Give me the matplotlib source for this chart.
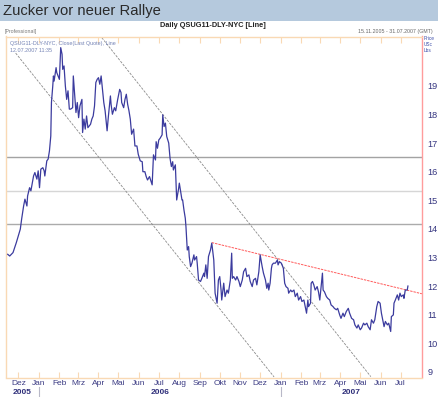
import matplotlib
matplotlib.use("Agg")
import matplotlib.pyplot as plt
import matplotlib.transforms as mtransforms
from matplotlib import font_manager
import pandas as pd

# ---------------- data ----------------
start_date = "2005-11-15"
day_offsets = [0, 3, 8, 13, 16, 19, 21, 24, 26, 29, 30, 33, 35, 39, 41, 44, 46, 48, 50, 53, 55, 56, 59, 61, 63, 65, 66, 68, 69, 70,
               73, 74, 78, 80, 82, 83, 85, 87, 89, 91, 93, 95, 98, 99, 102, 103, 105, 107, 109, 112, 113, 115, 117, 119, 121, 123, 125, 127, 129, 131,
               133, 135, 137, 139, 141, 143, 145, 147, 150, 152, 155, 156, 158, 161, 163, 166, 169, 171, 172, 175, 177, 179, 181, 183, 185, 187, 190, 192, 195, 197,
               200, 203, 204, 207, 209, 211, 214, 218, 220, 223, 224, 226, 228, 230, 233, 234, 236, 238, 240, 243, 245, 247, 249, 250, 253, 254, 255, 258, 259, 261,
               263, 264, 266, 268, 269, 271, 273, 274, 276, 278, 281, 282, 285, 286, 288, 291, 293, 296, 297, 299, 301, 303, 306, 308, 311, 313, 316, 318, 320, 322,
               323, 326, 328, 331, 333, 336, 338, 339, 341, 344, 346, 349, 351, 354, 356, 359, 361, 364, 366, 369, 371, 374, 376, 379, 381, 384, 386, 389, 391, 393,
               394, 396, 398, 399, 401, 404, 407, 408, 410, 413, 416, 418, 420, 423, 424, 427, 429, 432, 434, 437, 439, 442, 444, 447, 449, 451, 453, 454, 457, 458,
               460, 462, 464, 467, 469, 471, 473, 475, 476, 478, 481, 483, 486, 488, 491, 493, 496, 498, 501, 503, 506, 508, 511, 514, 516, 519, 522, 524, 527, 529,
               532, 534, 537, 539, 542, 544, 547, 549, 552, 554, 557, 559, 562, 564, 567, 568, 570, 573, 575, 578, 579, 582, 583, 585, 588, 590, 592, 594, 597, 598,
               600, 603, 604]
close_values = [13.11, 13.05, 13.17, 13.52, 13.75, 13.99, 14.34, 14.80, 15.04, 14.80, 15.15, 15.44, 15.33, 15.85, 15.97, 15.74, 16.03, 15.44, 16.09, 16.14, 16.03, 15.85, 16.38, 16.44, 16.73, 17.25, 18.42, 19.00, 19.35, 19.17,
                19.64, 19.47, 19.23, 20.34, 20.11, 19.58, 19.70, 19.00, 18.53, 18.83, 18.19, 18.19, 18.24, 19.35, 18.42, 18.07, 18.42, 17.89, 18.30, 18.53, 17.37, 17.84, 17.49, 17.95, 17.54, 17.60, 17.66, 17.84, 17.95, 18.30,
                19.12, 19.23, 19.29, 19.06, 19.35, 18.88, 18.42, 18.13, 17.43, 17.95, 18.65, 18.36, 18.01, 18.24, 18.13, 18.53, 18.88, 18.77, 18.42, 18.24, 18.53, 18.71, 18.36, 18.13, 17.84, 17.31, 17.49, 16.90, 16.90, 16.61,
                16.38, 16.35, 16.00, 16.00, 15.83, 15.71, 15.83, 15.54, 16.59, 16.41, 17.05, 16.82, 17.11, 17.17, 17.29, 17.99, 17.58, 17.70, 17.23, 17.00, 16.47, 16.18, 16.35, 16.06, 16.24, 15.60, 15.01, 15.42, 15.60, 15.30,
                15.01, 15.01, 14.66, 14.37, 14.08, 13.26, 13.38, 13.03, 12.68, 12.80, 13.09, 12.91, 13.03, 12.80, 12.21, 12.16, 12.27, 12.45, 12.33, 12.74, 12.27, 13.03, 13.26, 13.50, 12.91, 11.75, 11.40, 12.21, 12.33, 11.86,
                11.51, 12.10, 11.63, 11.86, 11.75, 12.21, 13.15, 12.27, 12.33, 12.21, 12.33, 12.16, 11.98, 12.21, 12.50, 12.62, 12.33, 12.39, 12.16, 11.98, 12.21, 12.27, 12.04, 12.50, 13.09, 12.68, 12.45, 12.21, 11.92, 12.10,
                11.86, 12.10, 12.62, 12.74, 12.80, 12.80, 12.91, 12.74, 12.85, 12.80, 12.62, 12.10, 11.98, 11.92, 11.75, 11.86, 11.80, 11.86, 11.63, 11.75, 11.51, 11.63, 11.46, 11.51, 11.28, 11.05, 11.51, 11.28, 11.40, 12.10,
                12.16, 12.04, 11.86, 11.98, 11.80, 11.51, 11.98, 12.45, 11.86, 11.80, 11.63, 11.57, 11.51, 11.34, 11.28, 11.22, 11.17, 11.22, 10.99, 10.87, 11.05, 10.93, 11.11, 11.22, 11.05, 10.87, 10.82, 10.64, 10.53, 10.64,
                10.47, 10.53, 10.70, 10.64, 10.70, 10.58, 10.47, 10.82, 10.70, 10.82, 11.28, 11.46, 11.40, 11.05, 10.70, 10.58, 10.76, 10.64, 10.70, 10.41, 10.93, 10.99, 11.40, 11.51, 11.69, 11.51, 11.75, 11.63, 11.69, 11.57,
                11.86, 11.86, 12.00]

month_labels = ["Dez", "Jan", "Feb", "Mrz", "Apr", "Mai", "Jun", "Jul", "Aug", "Sep", "Okt", "Nov",
                "Dez", "Jan", "Feb", "Mrz", "Apr", "Mai", "Jun", "Jul"]
month_tick_dates = pd.date_range("2005-12-01", "2007-07-01", freq="MS")
year_labels = ["2005", "2006", "2007"]
year_break_dates = ["2006-01-01", "2007-01-01"]
y_ticks = [9, 10, 11, 12, 13, 14, 15, 16, 17, 18, 19]

level_values = [16.50, 15.34, 14.16]

resistance_dates = ["2006-09-19", "2007-08-02"]
resistance_values = [13.52, 11.73]
channel_upper_dates = ["2006-04-06", "2007-05-17"]
channel_upper_values = [20.69, 8.83]
channel_lower_dates = ["2005-11-27", "2006-12-22"]
channel_lower_values = [20.15, 8.82]

x_range = ["2005-11-12 10:00", "2007-08-02 06:00"]
y_range = [8.80, 20.73]

# ---------------- fonts ----------------
def pick(names):
    for n in names:
        try:
            font_manager.findfont(n, fallback_to_default=False)
            return n
        except Exception:
            pass
    return "DejaVu Sans"

base_font = pick(["Liberation Sans", "Arial", "DejaVu Sans"])
narrow_font = pick(["Liberation Sans Narrow", "Liberation Sans", "DejaVu Sans"])
plt.rcParams["font.family"] = [base_font, "DejaVu Sans"]

# ---------------- figure ----------------
W, H = 438, 397
fig = plt.figure(figsize=(W / 100, H / 100), dpi=100)
fig.patch.set_facecolor("white")

def fx(px):
    return px / W

def fy(py):
    return 1 - py / H

# banner
banner = plt.Rectangle((0, fy(20.5)), 1, 20.5 / H, transform=fig.transFigure,
                       facecolor="#b5c9dd", edgecolor="none", zorder=0)
fig.patches.append(banner)
fig.text(fx(3), fy(10.5), "Zucker vor neuer Rallye", family=[narrow_font, "DejaVu Sans"],
         fontsize=12.5 if narrow_font != base_font else 10.6, color="#2a2a2a", va="center", ha="left")

fig.text(fx(213), fy(25.5), "Daily QSUG11-DLY-NYC [Line]", fontsize=5.3, fontweight="bold",
         color="#222222", ha="center", va="center")
fig.text(fx(5), fy(31), "[Professional]", fontsize=3.8, color="#777777", ha="left", va="center")
fig.text(fx(433), fy(31), "15.11.2005 - 31.07.2007 (GMT)", fontsize=3.8, color="#666666",
         ha="right", va="center")
fig.text(fx(424), fy(45), "Price\nUSc\nLbs", fontsize=3.4, color="#3a4aa8", ha="left", va="center",
         linespacing=1.25)

# axes
left, right, top, bottom = 6, 422, 36.5, 377.5
ax = fig.add_axes([fx(left), fy(bottom), (right - left) / W, (bottom - top) / H])
ax.set_facecolor("white")

dates = pd.Timestamp(start_date) + pd.to_timedelta(day_offsets, unit="D")
ax.plot(dates, close_values, color="#3b3b9e", lw=0.9, zorder=4)

level_colors = ["#a3a3a3", "#d6d6d6", "#ababab"]
for v, c in zip(level_values, level_colors):
    ax.axhline(v, color=c, lw=1.0, zorder=1)

ax.plot(pd.to_datetime(channel_upper_dates), channel_upper_values, color="#8a8a8a", lw=0.6,
        ls=(0, (3, 1.5)), zorder=2)
ax.plot(pd.to_datetime(channel_lower_dates), channel_lower_values, color="#8a8a8a", lw=0.6,
        ls=(0, (3, 1.5)), zorder=2)
ax.plot(pd.to_datetime(resistance_dates), resistance_values, color="#ff5a5a", lw=0.7,
        ls=(0, (2.5, 1)), zorder=3)

ax.set_xlim(pd.Timestamp(x_range[0]), pd.Timestamp(x_range[1]))
ax.set_ylim(*y_range)

# spines
for s in ["left", "top", "bottom"]:
    ax.spines[s].set_color("#f9d9b4")
    ax.spines[s].set_linewidth(1.0)
ax.spines["right"].set_color("#ff9c9c")
ax.spines["right"].set_linewidth(1.0)

# x ticks
ax.set_xticks(month_tick_dates)
ax.set_xticklabels(month_labels)
ax.tick_params(axis="x", direction="in", length=4, width=0.8, color="#f9d9b4", top=True,
               labelsize=6, labelcolor="#3c3c84", pad=2)

# y ticks on the right
ax.yaxis.tick_right()
ax.set_yticks(y_ticks)
ax.set_yticklabels([str(t) for t in y_ticks])
ax.tick_params(axis="y", length=0, labelsize=6.6, labelcolor="#353580", pad=4)

# year labels and separators
xl = ax.get_xlim()
import matplotlib.dates as mdates
bounds = [xl[0]] + [mdates.date2num(pd.Timestamp(d)) for d in year_break_dates] + [xl[1]]
trans = mtransforms.blended_transform_factory(ax.transData, ax.transAxes)
ylab = -(392 - bottom) / (bottom - top)
for i, lab in enumerate(year_labels):
    ax.text((bounds[i] + bounds[i + 1]) / 2, ylab, lab, transform=trans, fontsize=6,
            fontweight="bold", color="#2f2f7a", ha="center", va="center", clip_on=False)
for b in bounds[1:-1]:
    ax.plot([b, b], [-(387 - bottom) / (bottom - top), -(397 - bottom) / (bottom - top)],
            transform=trans, color="#b8b8c8", lw=0.8, clip_on=False)

# info text inside chart
ax.text(fx(10) , 0, "", transform=fig.transFigure)
fig.text(fx(10), fy(44), "QSUG11-DLY-NYC, Close(Last Quote), Line", fontsize=3.9,
         color="#7483b5", ha="left", va="center", zorder=10)
fig.text(fx(10), fy(50.5), "12.07.2007 11:35", fontsize=3.9, color="#7483b5", ha="left",
         va="center", zorder=10)

fig.savefig("out.png", dpi=100, facecolor="white")
